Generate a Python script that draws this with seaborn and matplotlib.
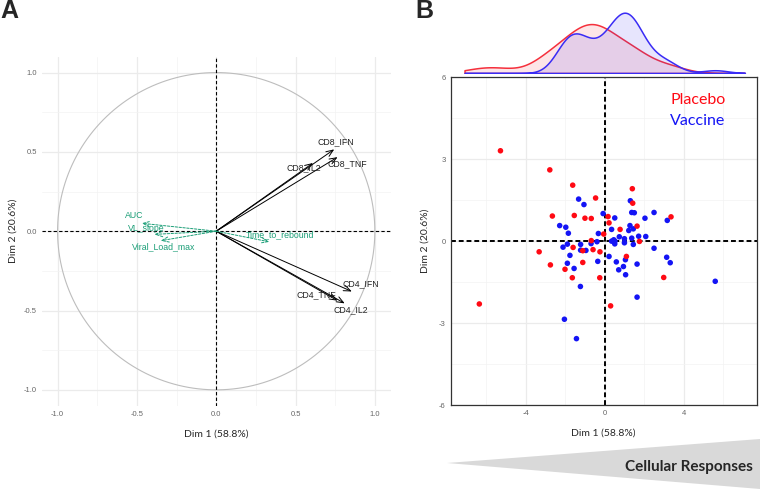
import numpy as np
import pandas as pd
import seaborn as sns
import matplotlib.pyplot as plt
from matplotlib.patches import Polygon, Rectangle

# ============================================
# DATA
# ============================================

# panel A - variable loadings (correlation circle)
active_names = ["CD8_IFN", "CD8_TNF", "CD8_IL2", "CD4_IFN", "CD4_TNF", "CD4_IL2"]
active_x = [0.744, 0.765, 0.61, 0.855, 0.765, 0.81]
active_y = [0.516, 0.467, 0.43, -0.38, -0.438, -0.455]
active_lab_x = [0.755, 0.828, 0.555, 0.912, 0.629, 0.849]
active_lab_y = [0.562, 0.426, 0.40, -0.329, -0.398, -0.492]

supp_names = ["AUC", "VL_slope", "Viral_Load_max", "Time_to_rebound"]
supp_x = [-0.47, -0.39, -0.35, 0.335]
supp_y = [0.05, -0.02, -0.06, -0.067]
supp_lab_x = [-0.514, -0.44, -0.33, 0.40]
supp_lab_y = [0.096, 0.018, -0.10, -0.025]

# panel B - individuals
placebo_x = [-5.28, -2.78, -1.62, -0.46, 1.40, 1.42, -2.65, -1.54, -1.00, -0.68,
             0.17, 0.22, 3.36, 1.64, 0.78, -0.05, -0.68, 1.76, -3.32, -1.60,
             -1.11, -0.59, -0.24, 1.10, -2.75, -1.11, -2.01, -1.64, -0.25, 2.99,
             0.30, -6.35]
placebo_y = [3.31, 2.61, 2.05, 1.58, 1.92, 1.39, 0.92, 0.94, 0.84, 0.83,
             0.90, 0.67, 0.89, 0.55, 0.43, 0.26, 0.02, -0.01, -0.39, -0.23,
             -0.35, -0.31, -0.39, -0.56, -0.87, -0.78, -1.03, -1.34, -1.34, -1.33,
             -2.37, -2.30]
vaccine_x = [-1.32, -1.05, -0.08, 0.51, 1.30, 1.37, 1.50, 2.50, 2.04, 3.17,
             -2.28, -1.97, -1.84, -0.32, 0.35, 1.28, 1.45, 1.22, 0.74, 1.72,
             2.08, 0.46, 0.52, 0.35, 1.00, 1.00, 1.37, 1.45, 0.51, -0.39,
             -1.22, -1.89, -2.11, -1.22, -0.95, -0.69, -1.76, 0.22, 2.50, -1.89,
             -0.35, 0.59, 1.05, 1.64, 3.14, 3.32, -1.55, 0.71, 0.95, 1.06,
             -1.23, 5.60, 1.64, -2.04, -1.43]
vaccine_y = [1.54, 1.34, 1.01, 0.85, 1.48, 1.05, 1.04, 1.05, 0.84, 0.76,
             0.57, 0.51, 0.29, 0.28, 0.43, 0.57, 0.45, 0.39, 0.16, 0.18,
             0.17, 0.05, 0.00, 0.00, 0.09, -0.06, 0.11, -0.12, -0.10, -0.02,
             -0.12, -0.11, -0.22, -0.33, -0.34, -0.09, -0.52, -0.56, -0.26, -0.81,
             -0.74, -0.76, -0.68, -0.84, -0.59, -0.79, -1.00, -1.05, -0.93, -1.23,
             -1.66, -1.47, -2.05, -2.86, -3.57]

groups = ["Placebo", "Vaccine"]
colors = {"Placebo": "#FF0A14", "Vaccine": "#1414F5"}
kde_colors = {"Placebo": "#F5303C", "Vaccine": "#3A2CF5"}
supp_color = "#1B9E77"

ind = pd.DataFrame({
    "Dim1": vaccine_x + placebo_x,
    "Dim2": vaccine_y + placebo_y,
    "Group": ["Vaccine"] * len(vaccine_x) + ["Placebo"] * len(placebo_x),
})

# ============================================
# STYLE
# ============================================

sns.set_style("white")
plt.rcParams["font.family"] = ["Liberation Sans", "DejaVu Sans"]
plt.rcParams["axes.unicode_minus"] = False

fig = plt.figure(figsize=(7.6, 4.9), dpi=100)
W, H = 760, 490


def px_axes(x0, y0, x1, y1):
    return fig.add_axes([x0 / W, 1 - y1 / H, (x1 - x0) / W, (y1 - y0) / H])


grid_major = dict(color="#EBEBEB", lw=0.9)
grid_minor = dict(color="#F3F3F3", lw=0.5)

# ============================================
# PANEL A
# ============================================

axA = px_axes(41.7, 56.7, 390.7, 405.7)
axA.set_xlim(-1.1, 1.1)
axA.set_ylim(-1.1, 1.1)
ticks = [-1.0, -0.5, 0.0, 0.5, 1.0]
axA.set_xticks(ticks)
axA.set_yticks(ticks)
axA.set_xticks([-0.75, -0.25, 0.25, 0.75], minor=True)
axA.set_yticks([-0.75, -0.25, 0.25, 0.75], minor=True)
axA.grid(True, which="major", **grid_major)
axA.grid(True, which="minor", **grid_minor)
axA.set_axisbelow(True)
for s in axA.spines.values():
    s.set_visible(False)
axA.tick_params(which="major", length=2, width=0.6, color="#888888",
                labelsize=5.5, labelcolor="#666666", pad=1.5)
axA.tick_params(which="minor", length=0)

theta = np.linspace(0, 2 * np.pi, 400)
axA.plot(np.cos(theta), np.sin(theta), color="#BDBDBD", lw=0.8)
axA.axhline(0, color="black", ls=(0, (3, 2)), lw=0.8)
axA.axvline(0, color="black", ls=(0, (3, 2)), lw=0.8)

for name, x, y, lx, ly in zip(active_names, active_x, active_y, active_lab_x, active_lab_y):
    axA.annotate("", xy=(x, y), xytext=(0, 0),
                 arrowprops=dict(arrowstyle="->,head_length=0.5,head_width=0.2",
                                 color="black", lw=0.7, shrinkA=0, shrinkB=0))
    axA.text(lx, ly, name, fontsize=6.3, color="#222222", ha="center", va="center")

for name, x, y, lx, ly in zip(supp_names, supp_x, supp_y, supp_lab_x, supp_lab_y):
    axA.annotate("", xy=(x, y), xytext=(0, 0),
                 arrowprops=dict(arrowstyle="->,head_length=0.5,head_width=0.2",
                                 color=supp_color, lw=0.7, ls=(0, (2.5, 1.5)),
                                 shrinkA=0, shrinkB=0))
    axA.text(lx, ly, name, fontsize=6.3, color=supp_color, ha="center", va="center")

axA.set_xlabel("Dim 1 (58.8%)", fontsize=7.5, family=["Lato", "DejaVu Sans"])
axA.set_ylabel("Dim 2 (20.6%)", fontsize=7.5, family=["Lato", "DejaVu Sans"])
axA.xaxis.label.set_va("center")
axA.yaxis.label.set_va("center")
axA.xaxis.set_label_coords(0.5, -0.08)
axA.yaxis.set_label_coords(-0.082, 0.5)

# ============================================
# PANEL B - SCATTER
# ============================================

xlim_b = (-7.8, 7.7)
axB = px_axes(450.7, 77.3, 756.7, 405)
axB.set_xlim(*xlim_b)
axB.set_ylim(-6, 6)
axB.set_xticks([-4, 0, 4])
axB.set_yticks([-6, -3, 0, 3, 6])
axB.set_xticks([-6, -2, 2, 6], minor=True)
axB.set_yticks([-4.5, -1.5, 1.5, 4.5], minor=True)
axB.grid(True, which="major", **grid_major)
axB.grid(True, which="minor", **grid_minor)
axB.set_axisbelow(True)
for s in axB.spines.values():
    s.set_color("#333333")
    s.set_linewidth(0.9)
axB.tick_params(which="major", length=2, width=0.6, color="#333333",
                labelsize=5.5, labelcolor="#666666", pad=1.5)
axB.tick_params(which="minor", length=0)

# white box behind the group labels
axB.add_patch(Rectangle((0.694, 0.809), 0.306, 0.191, transform=axB.transAxes,
                        facecolor="white", edgecolor="none", zorder=0.5))

axB.axhline(0, color="black", ls=(0, (2.5, 1.5)), lw=1.4, zorder=1)
axB.axvline(0, color="black", ls=(0, (2.5, 1.5)), lw=1.4, zorder=1)

sns.scatterplot(data=ind, x="Dim1", y="Dim2", hue="Group", palette=colors,
                s=16, edgecolor="none", legend=False, ax=axB, zorder=3)

axB.text(0.808, 0.931, "Placebo", transform=axB.transAxes, color=colors["Placebo"],
         fontsize=11.5, ha="center", va="center", family=["Lato", "DejaVu Sans"])
axB.text(0.808, 0.867, "Vaccine", transform=axB.transAxes, color=colors["Vaccine"],
         fontsize=11.5, ha="center", va="center", family=["Lato", "DejaVu Sans"])

axB.set_xlabel("Dim 1 (58.8%)", fontsize=7.5, family=["Lato", "DejaVu Sans"])
axB.set_ylabel("Dim 2 (20.6%)", fontsize=7.5, family=["Lato", "DejaVu Sans"])
axB.xaxis.label.set_va("center")
axB.yaxis.label.set_va("center")
axB.xaxis.set_label_coords(0.5, -0.085)
axB.yaxis.set_label_coords(-0.084, 0.5)

# ============================================
# PANEL B - MARGINAL DENSITY
# ============================================

axM = px_axes(450.7, 8, 756.7, 73)
sns.kdeplot(data=ind, x="Dim1", hue="Group", palette=kde_colors, common_norm=False,
            fill=True, alpha=0.12, linewidth=1.1, bw_adjust=0.85, cut=10,
            clip=(-7.1, 7.1), legend=False, ax=axM)
axM.set_xlim(*xlim_b)
ymax = max(c.get_paths()[0].vertices[:, 1].max() for c in axM.collections)
axM.set_ylim(0, ymax * 65 / 60.3)
axM.axis("off")

# ============================================
# DECORATIONS
# ============================================

fig.text(0 / W, 1 - 11 / H, "A", fontsize=18, fontweight="bold", va="center", ha="left")
fig.text(415 / W, 1 - 11.5 / H, "B", fontsize=18, fontweight="bold", va="center", ha="left")

tri = Polygon([(447 / W, 1 - 463 / H), (760 / W, 1 - 439 / H), (760 / W, 1 - 489 / H)],
              closed=True, transform=fig.transFigure, facecolor="#D9D9D9",
              edgecolor="none")
fig.patches.append(tri)
fig.text(753 / W, 1 - 467 / H, "Cellular Responses", fontsize=11, fontweight="bold",
         ha="right", va="center", family=["Lato", "DejaVu Sans"])

plt.savefig("out.png", dpi=100)
